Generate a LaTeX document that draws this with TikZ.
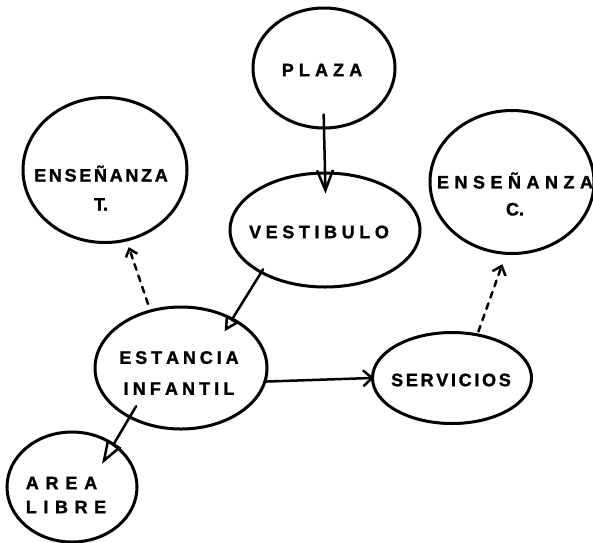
\documentclass[tikz,border=0pt]{standalone}
\usepackage{fontspec}
\setmainfont{Liberation Sans}
\newfontfamily\lblfont{Liberation Sans}[UprightFont={* Bold}, FakeBold=1.4]
\usetikzlibrary{arrows.meta,shapes.geometric}
\makeatletter
\newcommand\lspaced[2]{\begingroup\def\lsp@sep{}\@tfor\lsp@c:=#2\do{\lsp@sep\lsp@c\def\lsp@sep{\hspace{#1}}}\endgroup}
\makeatother
\begin{document}
\begin{tikzpicture}[x=1pt,y=-1pt,
  bubble/.style={ellipse, draw, line width=3pt, inner sep=0pt},
  lbl/.style={inner sep=0pt, font=\lblfont\fontsize{18}{21}\selectfont, align=center},
  conn/.style={line width=2.5pt, line cap=round},
  dconn/.style={conn, dash pattern=on 6pt off 6pt},
]
\useasboundingbox[fill=white] (0,0) rectangle (593,542);
% ellipses
\node[bubble, minimum width=142pt, minimum height=120pt] (plaza) at (324,68) {};
\node[bubble, minimum width=190pt, minimum height=114pt] (vest) at (325,230) {};
\node[bubble, minimum width=164pt, minimum height=145pt] (enst) at (105,170) {};
\node[bubble, minimum width=164pt, minimum height=143pt] (ensc) at (512,182) {};
\node[bubble, minimum width=172pt, minimum height=122pt] (est) at (181,368) {};
\node[bubble, minimum width=159pt, minimum height=91pt] (serv) at (452,378) {};
\node[bubble, minimum width=130pt, minimum height=110pt] (area) at (72,487) {};
% labels
\node[lbl] (plazaT) at (322,70) {\lspaced{5.1pt}{PLAZA}};
\node[lbl] (vestT) at (319,232) {\lspaced{4.6pt}{VESTIBULO}};
\node[lbl, font=\lblfont\fontsize{18}{29}\selectfont] (enstT) at (101,188) {\lspaced{2.7pt}{ENSEÑANZA}\\T.};
\node[lbl, font=\lblfont\fontsize{18}{27}\selectfont] (enscT) at (515,194) {\lspaced{5.5pt}{ENSEÑANZA}\\C.};
\node[lbl, font=\lblfont\fontsize{18}{31}\selectfont] (estT) at (179,373) {\lspaced{3.9pt}{ESTANCIA}\\\lspaced{4.1pt}{INFANTIL}};
\node[lbl] (servT) at (451,380) {\lspaced{2.7pt}{SERVICIOS}};
\node[lbl, align=left, font=\lblfont\fontsize{18}{24}\selectfont] (areaT) at (66,495) {\lspaced{6.8pt}{AREA}\\\lspaced{6.6pt}{LIBRE}};
% connectors
\draw[conn, -{Straight Barb[length=20pt,width=16pt]}, shorten <=-15pt, shorten >=-22pt] (plaza.south) -- (vest.north);
\draw[conn, -{Triangle[open,length=15pt,width=15pt]}, shorten <=-5pt, shorten >=-16pt] (vest.214) -- (est.44);
\draw[conn, -{Straight Barb[length=9pt,width=16pt]}, shorten <=-2pt, shorten >=-3pt] (est.-9) -- (serv.180);
\draw[conn, -{Triangle[open,length=24pt,width=16pt]}, shorten <=-14pt, shorten >=-24pt] (est.224) -- (area.46);
\draw[dconn, -{Straight Barb[length=7pt,width=12pt]}, shorten <=6pt, shorten >=6pt] (est.118) -- (enst.-73);
\draw[dconn, -{Straight Barb[length=8pt,width=14pt]}, shorten <=2pt, shorten >=10pt] (serv.60) -- (ensc.-95);
\end{tikzpicture}
\end{document}
